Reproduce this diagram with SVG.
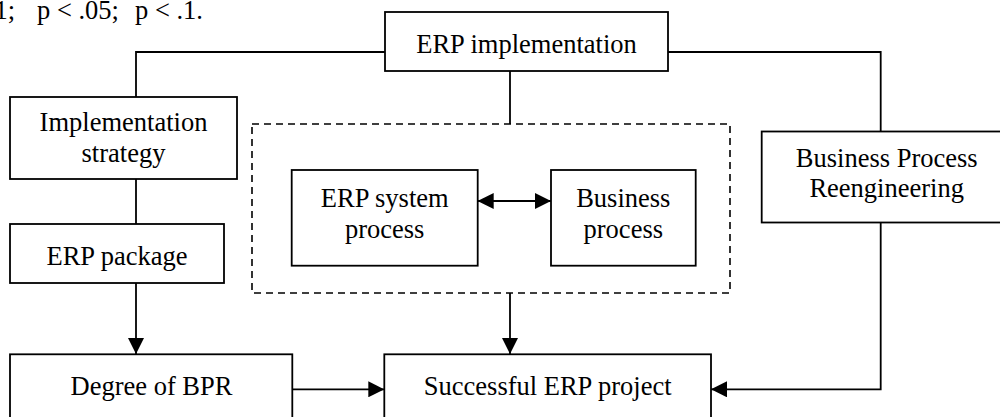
<svg xmlns="http://www.w3.org/2000/svg" width="1000" height="417" viewBox="0 0 1000 417">
<style>
  .box{fill:#fff;stroke:#000;stroke-width:1.8}
  .dash{fill:none;stroke:#000;stroke-width:1.6;stroke-dasharray:7,5}
  .t{font-family:"Liberation Serif","Times New Roman",serif;font-size:26.5px;fill:#000}
  .m{text-anchor:middle}
  .c{fill:none;stroke:#000;stroke-width:1.8}
</style>
<defs>
  <marker id="ah" markerUnits="userSpaceOnUse" markerWidth="16" markerHeight="16" refX="16" refY="8" orient="auto-start-reverse" viewBox="0 0 16 16">
    <path d="M0,0 L16,8 L0,16 Z" fill="#000"/>
  </marker>
</defs>
<rect width="1000" height="417" fill="#fff"/>
<text class="t" y="18.6"><tspan x="-5.6">1;</tspan><tspan x="37">p &lt; .05;</tspan><tspan x="135">p &lt; .1.</tspan></text>

<g id="connectors">
  <path class="c" d="M385,52 H136 V97"/>
  <path class="c" d="M668,52 H880.7 V131.5"/>
  <path class="c" d="M510,71 V124"/>
  <path class="c" d="M136,179 V224"/>
  <path class="c" d="M136,283 V354" marker-end="url(#ah)"/>
  <path class="c" d="M510,293 V354" marker-end="url(#ah)"/>
  <path class="c" d="M292.3,389.3 H384.3" marker-end="url(#ah)"/>
  <path class="c" d="M880.7,222.5 V389.3 H711" marker-end="url(#ah)"/>
  <path class="c" d="M477.7,201 H551" marker-start="url(#ah)" marker-end="url(#ah)"/>
</g>

<g id="erp-implementation">
  <rect class="box" x="385" y="12" width="283" height="59"/>
  <text class="t m" x="526.5" y="53">ERP implementation</text>
</g>
<g id="implementation-strategy">
  <rect class="box" x="10" y="97" width="227" height="82"/>
  <text class="t m" x="123.5" y="131">Implementation</text>
  <text class="t m" x="123.5" y="161.5">strategy</text>
</g>
<g id="erp-package">
  <rect class="box" x="10" y="224" width="214" height="59"/>
  <text class="t m" x="117" y="265">ERP package</text>
</g>
<g id="process-group">
  <rect class="dash" x="252" y="124" width="478" height="169"/>
</g>
<g id="erp-system-process">
  <rect class="box" x="291.7" y="170" width="186" height="95.7"/>
  <text class="t m" x="384.7" y="206.7">ERP system</text>
  <text class="t m" x="384.7" y="238">process</text>
</g>
<g id="business-process">
  <rect class="box" x="551" y="170" width="144.7" height="95.7"/>
  <text class="t m" x="623.3" y="206.7">Business</text>
  <text class="t m" x="623.3" y="238">process</text>
</g>
<g id="bpr">
  <rect class="box" x="761.7" y="131.5" width="250" height="91"/>
  <text class="t m" x="886.7" y="167.3">Business Process</text>
  <text class="t m" x="886.7" y="197.3">Reengineering</text>
</g>
<g id="degree-of-bpr">
  <rect class="box" x="10" y="354.3" width="282.3" height="70"/>
  <text class="t m" x="151.5" y="395">Degree of BPR</text>
</g>
<g id="successful-erp-project">
  <rect class="box" x="384.3" y="354.3" width="326.7" height="70"/>
  <text class="t m" x="547.7" y="395">Successful ERP project</text>
</g>
</svg>
